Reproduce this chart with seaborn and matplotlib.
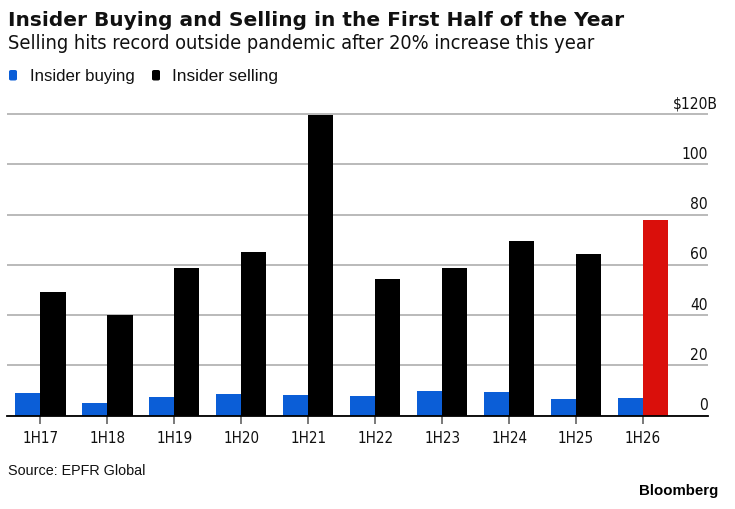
import matplotlib
matplotlib.use("Agg")
import matplotlib.pyplot as plt
import matplotlib.transforms as mtransforms
from matplotlib import font_manager as fm
from matplotlib.patches import FancyBboxPatch
import seaborn as sns
import pandas as pd

# ---- data ----
periods = ["1H17", "1H18", "1H19", "1H20", "1H21", "1H22", "1H23", "1H24", "1H25", "1H26"]
insider_buying = [9.1, 5.2, 7.4, 8.6, 8.1, 7.8, 9.9, 9.4, 6.6, 6.9]
insider_selling = [49.3, 40.2, 58.8, 65.3, 119.8, 54.4, 58.8, 69.6, 64.4, 77.9]
series_names = ["Insider buying", "Insider selling"]
highlight_period = "1H26"
y_ticks = [0, 20, 40, 60, 80, 100, 120]
y_tick_labels = ["0", "20", "40", "60", "80", "100", "$120B"]

title = "Insider Buying and Selling in the First Half of the Year"
subtitle = "Selling hits record outside pandemic after 20% increase this year"
source = "Source: EPFR Global"
brand = "Bloomberg"

df = pd.DataFrame({
    "period": periods * 2,
    "value": insider_buying + insider_selling,
    "series": [series_names[0]] * len(periods) + [series_names[1]] * len(periods),
})

BLUE = "#0b5ed7"
BLACK = "#000000"
RED = "#da0f0b"
GRID = "#b4b4b4"
TXT = "#111111"

sns.set_style("white")
plt.rcParams["font.family"] = ["DejaVu Sans"]


# ---- choose a regular-weight condensed face by file, if installed ----
def _w(v):
    if isinstance(v, (int, float)):
        return v
    return fm.weight_dict.get(str(v).lower(), 400)


cands = []
for f in fm.fontManager.ttflist:
    st = str(f.stretch).lower()
    nm = f.name.lower()
    fn = f.fname.lower()
    is_cond = ("condensed" in st and "semi" not in st and "extra" not in st) or \
              ("narrow" in nm) or ("condensed" in nm and "semi" not in nm and "extra" not in nm) or \
              (("-condensed" in fn or "narrow" in fn) and "semi" not in fn and "extra" not in fn)
    if not is_cond or f.style != "normal":
        continue
    w = _w(f.weight)
    if "bold" in fn or "black" in fn or "medium" in fn or "thin" in fn or "italic" in fn:
        if not ("regular" in fn and "bold" not in fn):
            w = max(w, 700) if "bold" in fn or "black" in fn else w
    cands.append((abs(w - 400), f.fname))
cands.sort()
if cands and cands[0][0] <= 100:
    COND = fm.FontProperties(fname=cands[0][1])
else:
    COND = fm.FontProperties(family=["Liberation Sans", "DejaVu Sans"])

W, H = 735, 510
fig = plt.figure(figsize=(W / 100, H / 100), dpi=100)
renderer = fig.canvas.get_renderer()


def fit(t, target_px):
    w = t.get_window_extent(renderer).width
    if w > 0:
        t.set_fontsize(t.get_fontsize() * target_px / w)


def cprop(size):
    p = COND.copy()
    p.set_size(size)
    return p


ax_left, ax_right = 7, 708
ax_bottom = 416.7
ymax = 120.5
px_per_unit = (416.7 - 115) / 120
ax_h = ymax * px_per_unit
ax = fig.add_axes([ax_left / W, 1 - ax_bottom / H, (ax_right - ax_left) / W, ax_h / H])

sns.barplot(data=df, x="period", y="value", hue="series", order=periods,
            hue_order=series_names, palette=[BLUE, BLACK], width=0.75,
            gap=0, dodge=True, saturation=1, ax=ax, legend=False, errorbar=None)

for p, lab in zip(ax.containers[1].patches, periods):
    p.set_edgecolor("none")
    if lab == highlight_period:
        p.set_facecolor(RED)
for p in ax.containers[0].patches:
    p.set_edgecolor("none")

ax.set_xlim(-0.5, 9.97)
ax.set_ylim(0, ymax)
ax.set_xlabel("")
ax.set_ylabel("")

ax.set_yticks(y_ticks)
ax.yaxis.grid(True, color=GRID, linewidth=1.3)
ax.xaxis.grid(False)
ax.set_axisbelow(True)

for s in ["top", "left", "right"]:
    ax.spines[s].set_visible(False)
ax.spines["bottom"].set_color("black")
ax.spines["bottom"].set_linewidth(1.3)
ax.spines["bottom"].set_zorder(5)

# tick font sizes from target widths (slightly enlarged toward the reference's taller glyphs)
probe = fig.text(0, 0, "1H17", fontproperties=cprop(12))
fit(probe, 31.5)
x_fs = probe.get_fontsize() * 1.15
probe.set_text("100")
probe.set_fontsize(12)
fit(probe, 23)
y_fs = probe.get_fontsize() * 1.15
probe.remove()

ax.set_xticks(range(len(periods)))
ax.set_xticklabels(periods)
ax.tick_params(axis="x", bottom=True, length=6, width=1.1, color="#555555",
               pad=4, labelcolor=TXT)
for t in ax.get_xticklabels():
    t.set_fontproperties(cprop(x_fs))

ax.yaxis.tick_right()
ax.set_yticklabels(y_tick_labels)
ax.tick_params(axis="y", right=False, left=False, length=0, pad=0, labelcolor=TXT)
for t, lab in zip(ax.get_yticklabels(), y_tick_labels):
    t.set_fontproperties(cprop(y_fs))
    t.set_horizontalalignment("right")
    dx = 10 / 100 if lab.startswith("$") else 0
    t.set_transform(t.get_transform() + mtransforms.ScaledTranslation(dx, 12.5 / 100, fig.dpi_scale_trans))

# titles
t_title = fig.text(8 / W, 1 - 26 / H, title, fontsize=14, fontweight="bold",
                   family=["DejaVu Sans"], va="baseline", ha="left", color=TXT)
fit(t_title, 616)
t_sub = fig.text(8 / W, 1 - 49 / H, subtitle, fontproperties=cprop(15),
                 va="baseline", ha="left", color=TXT)
fit(t_sub, 587)

# legend
leg_y = 76
items = [(9, 30, 105), (152, 172, 106)]
for (sx, tx, tw), name, col in zip(items, series_names, [BLUE, BLACK]):
    fig.patches.append(FancyBboxPatch((sx / W, 1 - 81.5 / H), 8 / W, 10.5 / H,
                                      boxstyle="round,pad=0,rounding_size=0.003",
                                      transform=fig.transFigure, facecolor=col,
                                      edgecolor="none"))
    lt = fig.text(tx / W, 1 - leg_y / H, name, fontsize=12.5,
                  family=["Liberation Sans", "DejaVu Sans"], va="center", ha="left", color=TXT)
    fit(lt, tw)

t_src = fig.text(8 / W, 1 - 471 / H, source, fontsize=11,
                 family=["Liberation Sans", "DejaVu Sans"], va="center", ha="left", color=TXT)
fit(t_src, 137)
t_brand = fig.text(718 / W, 1 - 491 / H, brand, fontsize=10.5, fontweight="bold",
                   family=["Liberation Sans", "DejaVu Sans"], va="center", ha="right", color="#000000")
fit(t_brand, 80)

fig.savefig("out.png", dpi=100)
